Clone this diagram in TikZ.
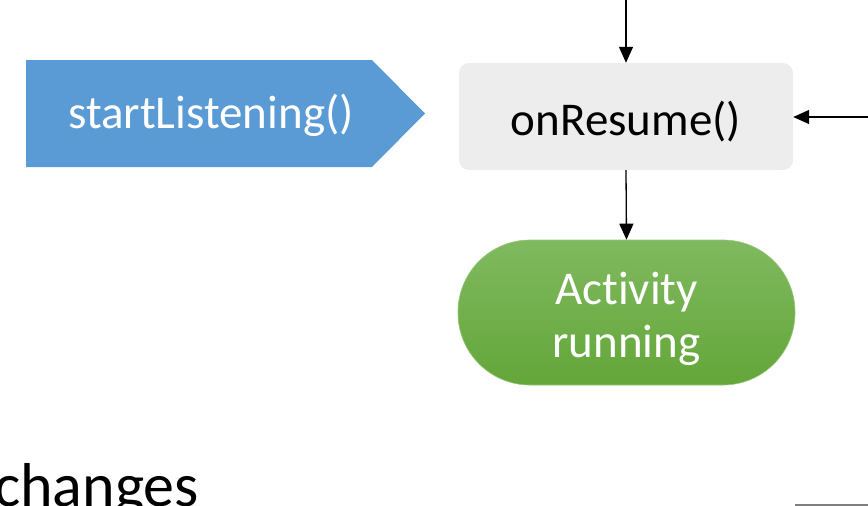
\documentclass[tikz,border=0pt]{standalone}
\usepackage{fontspec}
\setmainfont{Carlito}[RawFeature={-liga;-clig;-dlig}]
\usetikzlibrary{arrows.meta}
\definecolor{callblue}{HTML}{5B9BD5}
\definecolor{stepgray}{HTML}{EDEDED}
\definecolor{greentop}{HTML}{80B95F}
\definecolor{greenbot}{HTML}{63A639}
\definecolor{rulegray}{HTML}{7F7F7F}
\tikzset{
  flow/.style={line width=1.3pt, -{Triangle[width=14pt,length=16pt]}},
  label47/.style={font=\fontsize{47}{55}\selectfont},
}
\begin{document}
\begin{tikzpicture}[x=1pt,y=-1pt]
  \useasboundingbox (0,0) rectangle (868,506);
  % call tag
  \fill[callblue] (26,60) -- (372,60) -- (425,113.5) -- (372,167) -- (26,167) -- cycle;
  \node[label47, text=white, anchor=base] (call) at (211,128) {startListening()};
  % lifecycle step
  \node[fill=stepgray, rounded corners=10pt, minimum width=334pt, minimum height=107pt,
        inner sep=0pt] (resume) at (626,116.5) {};
  \node[label47, anchor=base] at (626,135) {onResume()};
  % running state
  \node[rounded corners=72pt, minimum width=337pt, minimum height=145pt, inner sep=0pt,
        top color=greentop, bottom color=greenbot, draw=greentop!80!white, line width=0.6pt]
        (running) at (626.5,312.5) {};
  \node[label47, text=white, anchor=base] at (626.5,304) {Activity};
  \node[label47, text=white, anchor=base] at (626.5,357) {running};
  % connectors
  \coordinate (fromtop) at (626,0);
  \coordinate (fromright) at (868,117);
  \draw[flow] (fromtop) -- (resume.north);
  \draw[flow] (fromright) -- (resume.east |- fromright);
  \draw[flow] (resume.south) -- (running.north);
  % text and rule at the lower edge
  \node[font=\fontsize{62}{72}\selectfont, anchor=base west, inner sep=0pt] (chg) at (-6,506) {changes};
  \coordinate (rulea) at (795,505);
  \coordinate (ruleb) at (868,505);
  \draw[rulegray, line width=2pt] (rulea) -- (ruleb);
\end{tikzpicture}
\end{document}
